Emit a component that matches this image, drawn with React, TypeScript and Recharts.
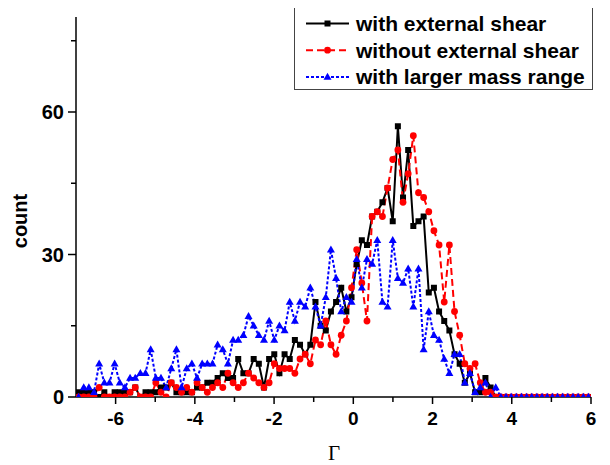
import React from "react";
import { Legend, Line, LineChart, XAxis, YAxis } from "recharts";

// histogram of Gamma: 100 bins of width 0.13 spanning [-7, 6]
const binStart = -6.935;
const binWidth = 0.13;
const gammaBins = Array.from({ length: 100 }, (_, i) => Number((binStart + binWidth * i).toFixed(3)));

const withShear = [
  1, 1, 1, 1, 0, 1, 0, 1, 1, 1,
  1, 2, 0, 1, 1, 1, 2, 2, 3, 1,
  1, 1, 1, 2, 2, 3, 3, 4, 5, 4,
  4, 8, 5, 5, 8, 7, 2, 8, 9, 5,
  9, 8, 12, 11, 9, 11, 20, 15, 14, 18,
  20, 23, 18, 21, 28, 33, 32, 38, 39, 41,
  44, 37, 57, 42, 52, 36, 37, 38, 22, 23,
  18, 16, 14, 9, 7, 3, 5, 1, 1, 4,
  2, 0, 0, 0, 0, 0, 0, 0, 0, 0,
  0, 0, 0, 0, 0, 0, 0, 0, 0, 0,
];

const withoutShear = [
  0, 0, 0, 0, 2, 0, 0, 0, 0, 0,
  1, 2, 0, 0, 0, 3, 1, 0, 3, 2,
  1, 2, 1, 3, 2, 1, 2, 3, 2, 5,
  3, 2, 3, 5, 4, 3, 2, 3, 7, 6,
  6, 6, 5, 8, 9, 7, 12, 11, 16, 11,
  9, 13, 16, 23, 31, 24, 16, 38, 39, 38,
  44, 50, 52, 41, 47, 55, 43, 42, 39, 35,
  32, 20, 32, 18, 13, 7, 6, 7, 3, 1,
  1, 0, 0, 0, 0, 0, 0, 0, 0, 0,
  0, 0, 0, 0, 0, 0, 0, 0, 0, 0,
];

const largerMass = [
  0, 2, 2, 1, 7, 3, 3, 7, 3, 2,
  4, 4, 5, 5, 10, 4, 4, 2, 6, 10,
  2, 6, 7, 4, 7, 7, 7, 11, 10, 7,
  12, 12, 13, 17, 15, 13, 12, 16, 12, 15,
  14, 20, 16, 20, 19, 23, 19, 15, 21, 31,
  25, 18, 21, 20, 29, 23, 29, 28, 33, 20,
  19, 33, 25, 24, 27, 19, 27, 10, 18, 13,
  12, 8, 5, 9, 9, 3, 5, 1, 2, 3,
  0, 2, 0, 0, 0, 0, 0, 0, 0, 0,
  0, 0, 0, 0, 0, 0, 0, 0, 0, 0,
];

const seriesNames = ["with external shear", "without external shear", "with larger mass range"];
const xTicks = [-6, -5, -4, -3, -2, -1, 0, 1, 2, 3, 4, 5, 6];
const yTicks = [0, 15, 30, 45, 60, 75];

const data = gammaBins.map((gamma, i) => ({
  gamma,
  withShear: withShear[i],
  withoutShear: withoutShear[i],
  largerMass: largerMass[i],
}));

const sans = "Arial, 'Liberation Sans', sans-serif";

function marker(kind: string, cx: number, cy: number, color: string, key?: string) {
  if (kind === "square") {
    return <rect key={key} x={cx - 3} y={cy - 3} width={6} height={6} fill={color} />;
  }
  if (kind === "circle") {
    return <circle key={key} cx={cx} cy={cy} r={3.4} fill={color} />;
  }
  return (
    <path key={key} d={`M${cx},${cy - 4.2}L${cx + 4},${cy + 2.8}L${cx - 4},${cy + 2.8}Z`} fill={color} />
  );
}

const styles = [
  { key: "withShear", color: "#000000", dash: undefined, kind: "square" },
  { key: "withoutShear", color: "#ff0000", dash: "7 4", kind: "circle" },
  { key: "largerMass", color: "#0000ff", dash: "3 2", kind: "triangle" },
];

function XTick({ x, y, payload }: any) {
  const major = payload.value % 2 === 0;
  return (
    <g>
      <line x1={x} x2={x} y1={y} y2={y + (major ? 7 : 5)} stroke="#000" strokeWidth={1.5} />
      {major && (
        <text x={x} y={y + 28} textAnchor="middle" fontFamily={sans} fontWeight="bold" fontSize={19} fill="#000">
          {payload.value}
        </text>
      )}
    </g>
  );
}

function YTick({ x, y, payload }: any) {
  const major = payload.value % 30 === 0;
  return (
    <g>
      <line x1={x} x2={x - (major ? 8 : 5)} y1={y} y2={y} stroke="#000" strokeWidth={1.5} />
      {major && (
        <text x={x - 12} y={y + 7} textAnchor="end" fontFamily={sans} fontWeight="bold" fontSize={20} fill="#000">
          {payload.value}
        </text>
      )}
    </g>
  );
}

function LegendBox() {
  return (
    <svg width={300} height={86} style={{ display: "block" }}>
      <rect x={0.5} y={0.5} width={298} height={84} fill="#fff" stroke="#444" strokeWidth={1} />
      {styles.map((s, k) => {
        const cy = 18.5 + k * 26.7;
        return (
          <g key={s.key}>
            <line x1={12} x2={55} y1={cy} y2={cy} stroke={s.color} strokeWidth={2} strokeDasharray={s.dash} />
            {marker(s.kind, 33.5, cy, s.color)}
            <text x={62} y={cy + 7.5} fontFamily={sans} fontWeight="bold" fontSize={21} fill="#000">
              {seriesNames[k]}
            </text>
          </g>
        );
      })}
    </svg>
  );
}

export default function App() {
  return (
    <div style={{ width: 602, height: 457, position: "relative" }}>
      <LineChart width={602} height={457} data={data} margin={{ top: 9, right: 19, bottom: 28, left: 8 }}>
        <XAxis
          dataKey="gamma"
          type="number"
          domain={[-7, 6]}
          ticks={xTicks}
          interval={0}
          allowDataOverflow
          height={40}
          tickLine={false}
          tickSize={0}
          tickMargin={0}
          tick={<XTick />}
          axisLine={{ stroke: "#000", strokeWidth: 1.5 }}
          label={{
            content: () => (
              <text
                x={326}
                y={452}
                textAnchor="middle"
                fontFamily="'Times New Roman', 'Liberation Serif', serif"
                fontSize={21}
                fill="#000"
              >
                Γ
              </text>
            ),
          }}
        />
        <YAxis
          type="number"
          domain={[0, 80]}
          ticks={yTicks}
          interval={0}
          allowDataOverflow
          width={60}
          tickLine={false}
          tickSize={0}
          tickMargin={0}
          tick={<YTick />}
          axisLine={{ stroke: "#000", strokeWidth: 1.5 }}
          label={{
            content: () => (
              <text
                x={19}
                y={213}
                transform="rotate(-90 19 213)"
                textAnchor="middle"
                fontFamily={sans}
                fontWeight="bold"
                fontSize={20}
                fill="#000"
              >
                count
              </text>
            ),
          }}
        />
        <Legend
          layout="horizontal"
          align="center"
          verticalAlign="middle"
          content={() => <LegendBox />}
          wrapperStyle={{ left: 286, top: -3, width: 300, height: 86 }}
        />
        {styles.map((s, k) => (
          <Line
            key={s.key}
            name={seriesNames[k]}
            dataKey={s.key}
            type="linear"
            stroke={s.color}
            strokeWidth={2}
            strokeDasharray={s.dash}
            isAnimationActive={false}
            dot={(p: any) => marker(s.kind, p.cx, p.cy, s.color, `${s.key}-${p.index}`)}
            activeDot={false}
          />
        ))}
      </LineChart>
    </div>
  );
}
